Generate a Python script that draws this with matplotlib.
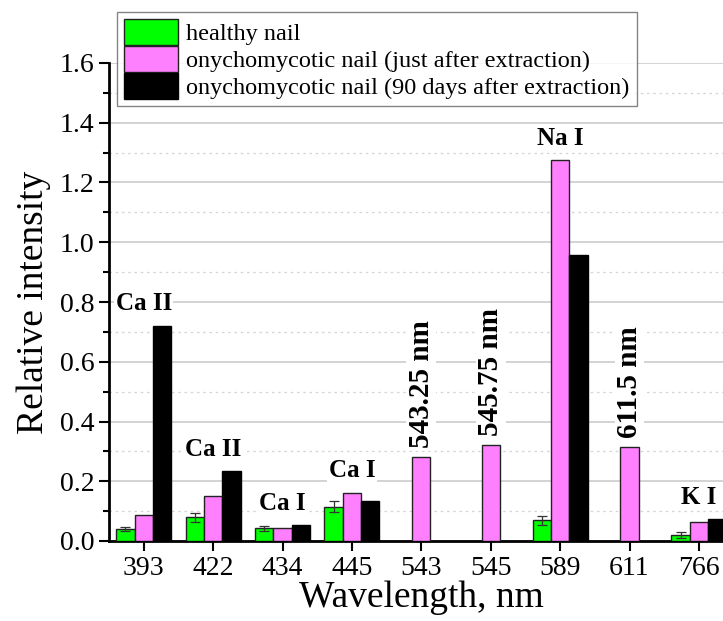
import numpy as np
import matplotlib
matplotlib.use("Agg")
import matplotlib.pyplot as plt
from matplotlib.ticker import MultipleLocator, FormatStrFormatter

plt.rcParams["font.family"] = ["Liberation Serif", "DejaVu Serif"]

wavelengths = ["393", "422", "434", "445", "543", "545", "589", "611", "766"]
healthy = [0.041, 0.080, 0.042, 0.115, np.nan, np.nan, 0.069, np.nan, 0.019]
healthy_err = [0.006, 0.015, 0.009, 0.018, np.nan, np.nan, 0.014, np.nan, 0.010]
just_after = [0.088, 0.152, 0.045, 0.162, 0.281, 0.320, 1.275, 0.314, 0.065]
days90 = [0.720, 0.233, 0.052, 0.133, np.nan, np.nan, 0.958, np.nan, 0.073]
line_labels = ["Ca II", "Ca II", "Ca I", "Ca I", "543.25 nm", "545.75 nm", "Na I", "611.5 nm", "K I"]
rotated = [False, False, False, False, True, True, False, True, False]

fig = plt.figure(figsize=(7.23, 6.21), dpi=100)
ax = fig.add_axes([109 / 723, 80 / 621, 624.6 / 723, 478 / 621])

x = np.arange(len(wavelengths))
w = 0.265
ax.bar(x - w, healthy, w, color="#00ff00", edgecolor="#222222", linewidth=1,
       label="healthy nail", zorder=3)
ax.errorbar(x - w, healthy, yerr=healthy_err, fmt="none", ecolor="#333333",
            elinewidth=0.9, capsize=3.5, capthick=0.9, zorder=4)
ax.bar(x, just_after, w, color="#ff80ff", edgecolor="#222222", linewidth=1,
       label="onychomycotic nail (just after extraction)", zorder=3)
ax.bar(x + w, days90, w, color="black", edgecolor="black", linewidth=1,
       label="onychomycotic nail (90 days after extraction)", zorder=3)

# line annotations above each group
for i, lab in enumerate(line_labels):
    top = np.nanmax([healthy[i] + (healthy_err[i] if not np.isnan(healthy_err[i]) else 0),
                     just_after[i], days90[i]])
    if rotated[i]:
        ax.text(x[i], top + 0.03, lab, ha="center", va="bottom", rotation=90,
                fontsize=21, fontweight="bold",
                bbox=dict(facecolor="white", edgecolor="none", pad=1), zorder=5)
    else:
        ax.text(x[i], top + 0.035, lab, ha="center", va="bottom",
                fontsize=18, fontweight="bold",
                bbox=dict(facecolor="white", edgecolor="none", pad=1), zorder=5)

ax.set_xlim(-0.5, len(wavelengths) - 0.5)
ax.set_ylim(0, 1.6)
ax.set_xticks(x)
ax.set_xticklabels(wavelengths)
ax.yaxis.set_major_locator(MultipleLocator(0.2))
ax.yaxis.set_minor_locator(MultipleLocator(0.1))
ax.yaxis.set_major_formatter(FormatStrFormatter("%.1f"))
ax.tick_params(axis="both", labelsize=20, width=1.5, length=7, direction="out")
ax.tick_params(axis="y", which="minor", width=1.5, length=4)
ax.grid(axis="y", which="major", color="#cccccc", linewidth=1.2, zorder=0)
ax.grid(axis="y", which="minor", color="#d4d4d4", linewidth=0.9, linestyle=(0, (2, 3)), zorder=0)
ax.set_axisbelow(True)

for s in ["top", "right"]:
    ax.spines[s].set_visible(False)
for s in ["left", "bottom"]:
    ax.spines[s].set_linewidth(2)

ax.set_xlabel("Wavelength, nm", fontsize=27, labelpad=0)
ax.set_ylabel("Relative intensity", fontsize=27, labelpad=6)

leg = fig.legend(loc="upper left", bbox_to_anchor=(117 / 723, 1 - 12 / 621),
                 fontsize=17.5, frameon=True, fancybox=False, borderaxespad=0,
                 handlelength=2.2, handleheight=1.25, labelspacing=0.03,
                 handletextpad=0.35, borderpad=0.3)
leg.get_frame().set_edgecolor("#666666")
leg.get_frame().set_linewidth(1)

fig.savefig("out.png", dpi=100)
